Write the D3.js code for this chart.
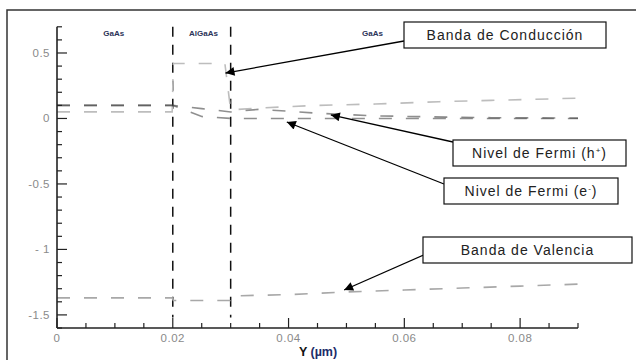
<!DOCTYPE html>
<meta charset="utf-8">
<title>Bandas GaAs / AlGaAs</title>
<script src="https://d3js.org/d3.v7.min.js"></script>
<style>
  body { margin: 0; background: #fff; }
  svg { display: block; font-family: "Liberation Sans", Arial, sans-serif; }
</style>
<div id="my_dataviz"></div>
<script>

// ---- data ----
var xTicks = [0, 0.02, 0.04, 0.06, 0.08];
var yTicks = [0.5, 0, -0.5, -1, -1.5];
var yTickLabels = ["0.5", "0", "-0.5", "- 1", "-1.5"];

var interfaces = [0.02, 0.03];

var regionNames = ["GaAs", "AlGaAs", "GaAs"];
var regionCenters = [0.0098, 0.0253, 0.0545];

var conductionX = [0, 0.01, 0.0199, 0.0201, 0.025, 0.0290, 0.0300, 0.035, 0.04, 0.045, 0.055, 0.066, 0.075, 0.09];
var conductionY = [0.05, 0.05, 0.05, 0.42, 0.42, 0.42, 0.065, 0.08, 0.09, 0.10, 0.11, 0.128, 0.138, 0.155];

var fermiHX = [0, 0.01, 0.02, 0.025, 0.03, 0.035, 0.045, 0.055, 0.065, 0.075, 0.09];
var fermiHY = [0.10, 0.10, 0.10, 0.075, 0.05, 0.07, 0.04, 0.02, 0.012, 0.006, 0.003];

var fermiEX = [0, 0.01, 0.02, 0.025, 0.03, 0.04, 0.05, 0.06, 0.07, 0.08, 0.09];
var fermiEY = [0.10, 0.10, 0.10, 0.015, 0.0, 0.0, 0.0, 0.0, 0.0, 0.0, 0.0];

var valenceX = [0, 0.01, 0.0199, 0.0201, 0.025, 0.0299, 0.0301, 0.04, 0.05, 0.06, 0.07, 0.08, 0.09];
var valenceY = [-1.37, -1.37, -1.37, -1.39, -1.39, -1.39, -1.355, -1.345, -1.325, -1.31, -1.295, -1.28, -1.265];

// annotation text and the point each arrow points at
var noteLabels = ["Banda de Conducción", "Nivel de Fermi (h", "Nivel de Fermi (e", "Banda de Valencia"];
var noteSup = ["", "+", "-", ""];
var noteTipX = [0.0291, 0.0473, 0.0397, 0.0496];
var noteTipY = [0.347, 0.027, -0.027, -1.31];

// ---- layout ----
var W = 636, H = 360;
var svg = d3.select("#my_dataviz").append("svg")
  .attr("width", W).attr("height", H);

// frame (only top and left edges show)
svg.append("path")
  .attr("d", "M7,360V10H636")
  .attr("fill", "none").attr("stroke", "#333").attr("stroke-width", 1.5);

var x = d3.scaleLinear().domain([0, 0.09]).range([57, 578]);
var y = d3.scaleLinear().domain([-1.6, 0.7]).range([328, 26.8]);

// arrow marker
svg.append("defs").append("marker")
  .attr("id", "arrow")
  .attr("viewBox", "0 0 10 10")
  .attr("refX", 10).attr("refY", 5)
  .attr("markerWidth", 12).attr("markerHeight", 9)
  .attr("markerUnits", "userSpaceOnUse")
  .attr("orient", "auto")
  .append("path").attr("d", "M0,0L10,5L0,10Z").attr("fill", "#000");

// interface lines
svg.selectAll(".iface")
  .data(interfaces)
  .enter().append("line")
  .attr("class", "iface")
  .attr("x1", function(d) { return x(d); })
  .attr("x2", function(d) { return x(d); })
  .attr("y1", y(0.7))
  .attr("y2", y(-1.52))
  .attr("stroke", "#111")
  .attr("stroke-width", 1.5)
  .attr("stroke-dasharray", "10,8");

// region names
svg.selectAll(".region")
  .data(regionNames)
  .enter().append("text")
  .attr("x", function(d, i) { return x(regionCenters[i]); })
  .attr("y", 36)
  .attr("text-anchor", "middle")
  .attr("font-size", "8px")
  .attr("font-weight", "bold")
  .attr("fill", "#2b3358")
  .text(function(d) { return d; });

// curves
var line = d3.line()
  .x(function(d) { return x(d[0]); })
  .y(function(d) { return y(d[1]); });

function zip(a, b) { return a.map(function(v, i) { return [v, b[i]]; }); }

var series = [
  { pts: zip(conductionX, conductionY), color: "#bdbdbd", op: 1 },
  { pts: zip(valenceX, valenceY), color: "#a8a8a8", op: 1 },
  { pts: zip(fermiHX, fermiHY), color: "#444", op: 0.6 },
  { pts: zip(fermiEX, fermiEY), color: "#444", op: 0.6 }
];

svg.selectAll(".curve")
  .data(series)
  .enter().append("path")
  .attr("class", "curve")
  .attr("d", function(d) { return line(d.pts); })
  .attr("fill", "none")
  .attr("stroke", function(d) { return d.color; })
  .attr("stroke-opacity", function(d) { return d.op; })
  .attr("stroke-width", 1.6)
  .attr("stroke-dasharray", "13,14");

// axes
var axisColor = "#222";
var labelColor = "#8a8a8a";

var yAxis = svg.append("g").attr("transform", "translate(" + x(0) + ",0)");
yAxis.append("line")
  .attr("y1", y(0.7)).attr("y2", y(-1.6))
  .attr("stroke", axisColor).attr("stroke-width", 1.6);
yAxis.selectAll(".minor")
  .data(d3.range(-16, 8).map(function(i) { return i / 10; }))
  .enter().append("line")
  .attr("x1", 0).attr("x2", function(d) { return Math.abs(d * 2 - Math.round(d * 2)) < 1e-6 ? 10 : 5; })
  .attr("y1", function(d) { return y(d); }).attr("y2", function(d) { return y(d); })
  .attr("stroke", axisColor).attr("stroke-width", 1.2);
yAxis.selectAll(".lab")
  .data(yTicks)
  .enter().append("text")
  .attr("x", -7)
  .attr("y", function(d) { return y(d); })
  .attr("dy", "0.35em")
  .attr("text-anchor", "end")
  .attr("font-size", "11.5px")
  .attr("letter-spacing", "0.5px")
  .attr("fill", labelColor)
  .text(function(d, i) { return yTickLabels[i]; });

var xAxis = svg.append("g").attr("transform", "translate(0," + y(-1.6) + ")");
xAxis.append("line")
  .attr("x1", x(0)).attr("x2", x(0.09))
  .attr("stroke", axisColor).attr("stroke-width", 1.6);
xAxis.selectAll(".minor")
  .data(d3.range(0, 19).map(function(i) { return i * 0.005; }))
  .enter().append("line")
  .attr("x1", function(d) { return x(d); }).attr("x2", function(d) { return x(d); })
  .attr("y1", 0).attr("y2", function(d, i) { return i % 4 === 0 ? -10 : -5; })
  .attr("stroke", axisColor).attr("stroke-width", 1.2);
xAxis.selectAll(".lab")
  .data(xTicks)
  .enter().append("text")
  .attr("x", function(d) { return x(d); })
  .attr("y", 14)
  .attr("text-anchor", "middle")
  .attr("font-size", "11.5px")
  .attr("letter-spacing", "0.5px")
  .attr("fill", labelColor)
  .text(function(d) { return d === 0 ? "0" : d3.format(".2f")(d); });

// axis title
var title = svg.append("text")
  .attr("x", 318).attr("y", 356)
  .attr("text-anchor", "middle")
  .attr("font-size", "12.5px")
  .attr("font-weight", "bold")
  .attr("fill", "#111");
title.append("tspan").text("Y ");
title.append("tspan").attr("fill", "#1c2c6a").text("(µm)");

// annotation boxes
var boxes = [
  { x0: 404, y0: 22, x1: 606, y1: 48, from: [404, 41] },
  { x0: 453, y0: 140, x1: 626, y1: 166, from: [453, 142] },
  { x0: 444, y0: 178, x1: 618, y1: 204, from: [444, 184] },
  { x0: 423, y0: 237, x1: 632, y1: 263, from: [426, 254] }
];

var notes = svg.selectAll(".note")
  .data(boxes)
  .enter().append("g")
  .attr("class", "note");

notes.append("line")
  .attr("x1", function(d) { return d.from[0]; })
  .attr("y1", function(d) { return d.from[1]; })
  .attr("x2", function(d, i) { return x(noteTipX[i]); })
  .attr("y2", function(d, i) { return y(noteTipY[i]); })
  .attr("stroke", "#000")
  .attr("stroke-width", 1.3)
  .attr("marker-end", "url(#arrow)");

notes.append("rect")
  .attr("x", function(d) { return d.x0; })
  .attr("y", function(d) { return d.y0; })
  .attr("width", function(d) { return d.x1 - d.x0; })
  .attr("height", function(d) { return d.y1 - d.y0; })
  .attr("fill", "#fff")
  .attr("stroke", "#111")
  .attr("stroke-width", 1.2);

var noteText = notes.append("text")
  .attr("x", function(d) { return (d.x0 + d.x1) / 2; })
  .attr("y", function(d) { return (d.y0 + d.y1) / 2 + 5; })
  .attr("text-anchor", "middle")
  .attr("font-size", "14px")
  .attr("letter-spacing", "1px")
  .attr("fill", "#222");
noteText.append("tspan").text(function(d, i) { return noteLabels[i]; });
noteText.append("tspan")
  .attr("font-size", "8px")
  .attr("dy", "-5")
  .text(function(d, i) { return noteSup[i]; });
noteText.append("tspan")
  .attr("dy", "5")
  .text(function(d, i) { return noteSup[i] ? ")" : ""; });

</script>
